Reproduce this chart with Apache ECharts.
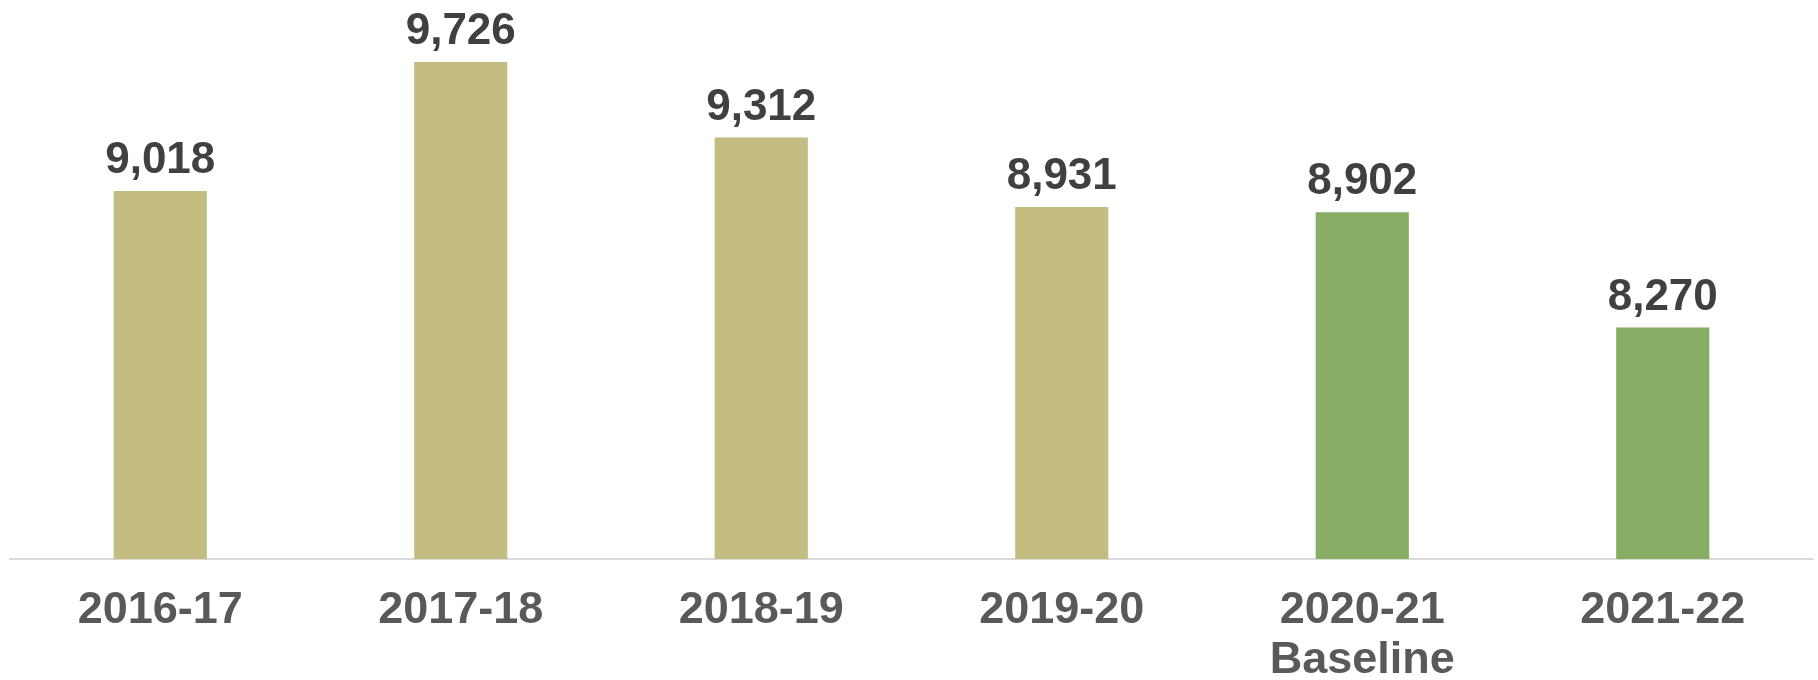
<!DOCTYPE html>
<html>
<head>
<meta charset="utf-8">
<script src="https://cdn.jsdelivr.net/npm/echarts@6/dist/echarts.min.js"></script>
<style>
  html, body { margin: 0; padding: 0; background: #ffffff; }
  #chart { width: 1818px; height: 680px; }
</style>
</head>
<body>
<div id="chart"></div>
<script>
// Fiscal years shown along the x axis
const categories = ['2016-17', '2017-18', '2018-19', '2019-20', '2020-21\nBaseline', '2021-22'];
// Totals per fiscal year
const values = [9018, 9726, 9312, 8931, 8902, 8270];
// Earlier years in tan, baseline and later in green
const barColors = ['#C3BD82', '#C3BD82', '#C3BD82', '#C3BD82', '#87AC64', '#87AC64'];

const chart = echarts.init(document.getElementById('chart'), null, { renderer: 'canvas' });

chart.setOption({
  animation: false,
  backgroundColor: '#ffffff',
  grid: { left: 10, right: 5, top: 12, bottom: 121, containLabel: false, outerBoundsMode: 'none' },
  xAxis: {
    type: 'category',
    data: categories,
    axisLine: { show: true, lineStyle: { color: '#D9D9D9', width: 2 } },
    axisTick: { show: false },
    axisLabel: {
      color: '#595959',
      fontFamily: 'Liberation Sans, Arial, sans-serif',
      fontWeight: 'bold',
      fontSize: 45,
      lineHeight: 50,
      margin: 27,
      interval: 0
    }
  },
  yAxis: {
    type: 'value',
    min: 7000,
    max: 10000,
    show: false,
    splitLine: { show: false }
  },
  series: [{
    type: 'bar',
    data: values.map((v, i) => ({ value: v, itemStyle: { color: barColors[i] } })),
    barWidth: '31%',
    label: {
      show: true,
      position: 'top',
      distance: 8,
      color: '#404040',
      fontFamily: 'Liberation Sans, Arial, sans-serif',
      fontWeight: 'bold',
      fontSize: 44,
      formatter: p => p.value.toLocaleString('en-US')
    }
  }]
});
</script>
</body>
</html>
